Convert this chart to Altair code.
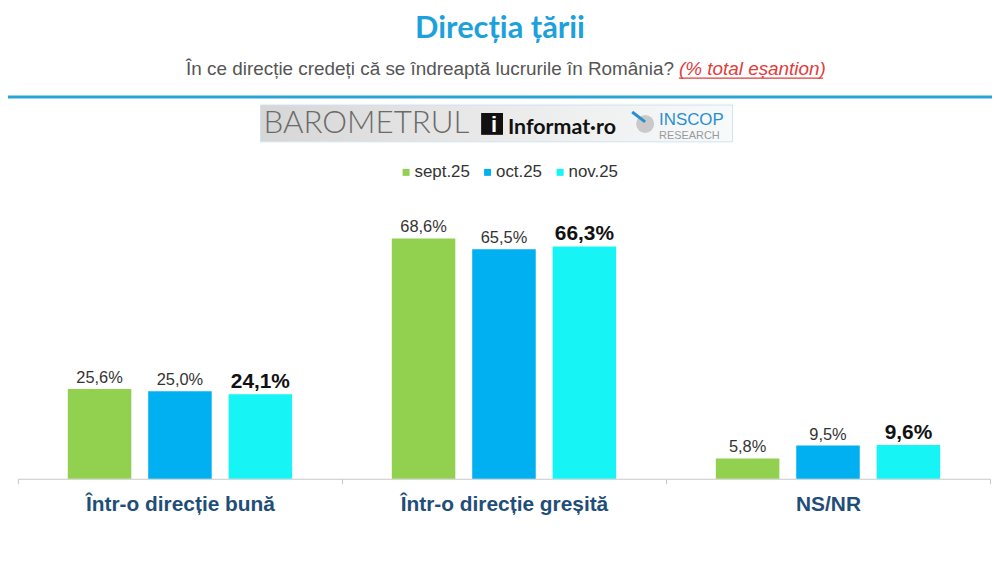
import altair as alt
import pandas as pd

categories = ["Într-o direcție bună", "Într-o direcție greșită", "NS/NR"]
months = ["sept.25", "oct.25", "nov.25"]
sept_values = [25.6, 68.6, 5.8]
oct_values = [25.0, 65.5, 9.5]
nov_values = [24.1, 66.3, 9.6]
colors = ["#92D050", "#00B0F0", "#17F4F6"]

rows = []
for m, vals in zip(months, [sept_values, oct_values, nov_values]):
    for c, v in zip(categories, vals):
        rows.append({"cat": c, "month": m, "value": v})
df = pd.DataFrame(rows)

x_enc = alt.X(
    "cat:N", sort=categories,
    scale=alt.Scale(paddingInner=0, paddingOuter=0),
    axis=alt.Axis(title=None, labelAngle=0, labelFont="Liberation Sans", labelFontSize=21,
                  labelFontWeight="bold", labelColor="#1F4E79", domainColor="#C8C8C8",
                  tickColor="#C8C8C8", tickBand="extent", tickSize=5, labelPadding=10,
                  labelLimit=0, domainWidth=1.2, grid=False),
)
xoff = alt.XOffset("month:N", sort=months, scale=alt.Scale(paddingInner=0.21, paddingOuter=0.62))
y_enc = alt.Y("value:Q", scale=alt.Scale(domain=[0, 80], nice=False), axis=None)
color = alt.Color(
    "month:N", sort=months, scale=alt.Scale(domain=months, range=colors),
    legend=alt.Legend(title=None, orient="none", direction="horizontal", legendX=382, legendY=-35,
                      symbolType="square", symbolSize=49, labelFontSize=17, labelFont="Liberation Sans",
                      labelColor="#333333", columnPadding=9, labelOffset=0, symbolStrokeWidth=0),
)

base = alt.Chart(df)
bars = base.mark_bar().encode(x=x_enc, xOffset=xoff, y=y_enc, color=color)

lab_expr = "replace(format(datum.value, '.1f'), '.', ',') + '%'"
labels_normal = base.transform_filter(alt.datum.month != "nov.25").transform_calculate(
    lab=lab_expr
).mark_text(baseline="alphabetic", dy=-6, fontSize=16.5, font="Liberation Sans", color="#333333").encode(
    x=x_enc, xOffset=xoff, y=y_enc, text="lab:N"
)
labels_bold = base.transform_filter(alt.datum.month == "nov.25").transform_calculate(
    lab=lab_expr
).mark_text(baseline="alphabetic", dy=-6, fontSize=21, fontWeight="bold", font="Liberation Sans",
            color="#111111").encode(
    x=x_enc, xOffset=xoff, y=y_enc, text="lab:N"
)

dummy = alt.Chart(pd.DataFrame({"d": [0]}))

title = dummy.mark_text(text="Direcția țării", font="Lato", fontSize=31, fontWeight="bold",
                        color="#1DA1DC", align="center", baseline="middle").encode(
    x=alt.value(485), y=alt.value(-170))
subtitle = dummy.mark_text(text="În ce direcție credeți că se îndreaptă lucrurile în România?",
                           font="Liberation Sans", fontSize=19, color="#555555", align="right",
                           baseline="middle").encode(x=alt.value(660), y=alt.value(-130))
subtitle_red = dummy.mark_text(text="(% total eșantion)", font="Liberation Sans", fontSize=19,
                               fontStyle="italic", color="#E03C3C", align="left",
                               baseline="middle").encode(x=alt.value(665), y=alt.value(-130))
underline = dummy.mark_rule(color="#E03C3C", strokeWidth=1.3).encode(
    x=alt.value(665), x2=alt.value(810), y=alt.value(-121))
header_line = dummy.mark_rule(color="#2AA3D6", strokeWidth=3).encode(
    x=alt.value(-18), x2=alt.value(982), y=alt.value(-102))

logo_bg = dummy.mark_rect(
    fill=alt.Gradient(gradient="linear", x1=0, x2=1, y1=0, y2=0,
                      stops=[alt.GradientStop(color="#D6D6D6", offset=0),
                             alt.GradientStop(color="#EAEAEA", offset=0.5),
                             alt.GradientStop(color="#F7FAFB", offset=1)]),
    stroke="#CFE3EE", strokeWidth=1).encode(
    x=alt.value(244), x2=alt.value(719), y=alt.value(-94), y2=alt.value(-57))
logo_baro = dummy.mark_text(text="BAROMETRUL", font="Lato", fontSize=31.5, fontWeight=300,
                            color="#6A6A6A", align="left", baseline="middle").encode(
    x=alt.value(247), y=alt.value(-75))
logo_ibox = dummy.mark_rect(color="#111111").encode(
    x=alt.value(466), x2=alt.value(488), y=alt.value(-86), y2=alt.value(-64))
logo_i = dummy.mark_text(text="i", font="Liberation Sans", fontSize=22, fontWeight="bold",
                         color="#FFFFFF", align="center", baseline="middle").encode(
    x=alt.value(479), y=alt.value(-74))
logo_inf = dummy.mark_text(text="Informat·ro", font="Lato", fontSize=21.5, fontWeight="bold",
                           color="#111111", align="left", baseline="middle").encode(
    x=alt.value(493), y=alt.value(-71))
logo_circle = dummy.mark_point(shape="circle", filled=True, size=330, color="#C9C9C9", opacity=1).encode(
    x=alt.value(631), y=alt.value(-75))
logo_stroke = dummy.mark_rule(color="#2A8FD0", strokeWidth=3).encode(
    x=alt.value(618), x2=alt.value(631), y=alt.value(-87), y2=alt.value(-77))
logo_inscop = dummy.mark_text(text="INSCOP", font="Liberation Sans", fontSize=17,
                              color="#2A8FD0", align="left", baseline="alphabetic").encode(
    x=alt.value(645), y=alt.value(-74))
logo_research = dummy.mark_text(text="RESEARCH", font="Liberation Sans", fontSize=11,
                                color="#9A9A9A", align="left", baseline="alphabetic").encode(
    x=alt.value(645), y=alt.value(-60))

chart = alt.layer(
    header_line, title, subtitle, subtitle_red, underline,
    logo_bg, logo_baro, logo_ibox, logo_i, logo_inf, logo_circle, logo_stroke, logo_inscop, logo_research,
    bars, labels_normal, labels_bold,
).properties(
    width=978, height=282,
    padding={"left": 10, "top": 190, "right": 2, "bottom": 60},
    autosize=alt.AutoSizeParams(type="none"),
    background="#FFFFFF",
).configure_view(stroke=None)

chart.save("out.html", embed_options={"renderer": "svg", "actions": False})
